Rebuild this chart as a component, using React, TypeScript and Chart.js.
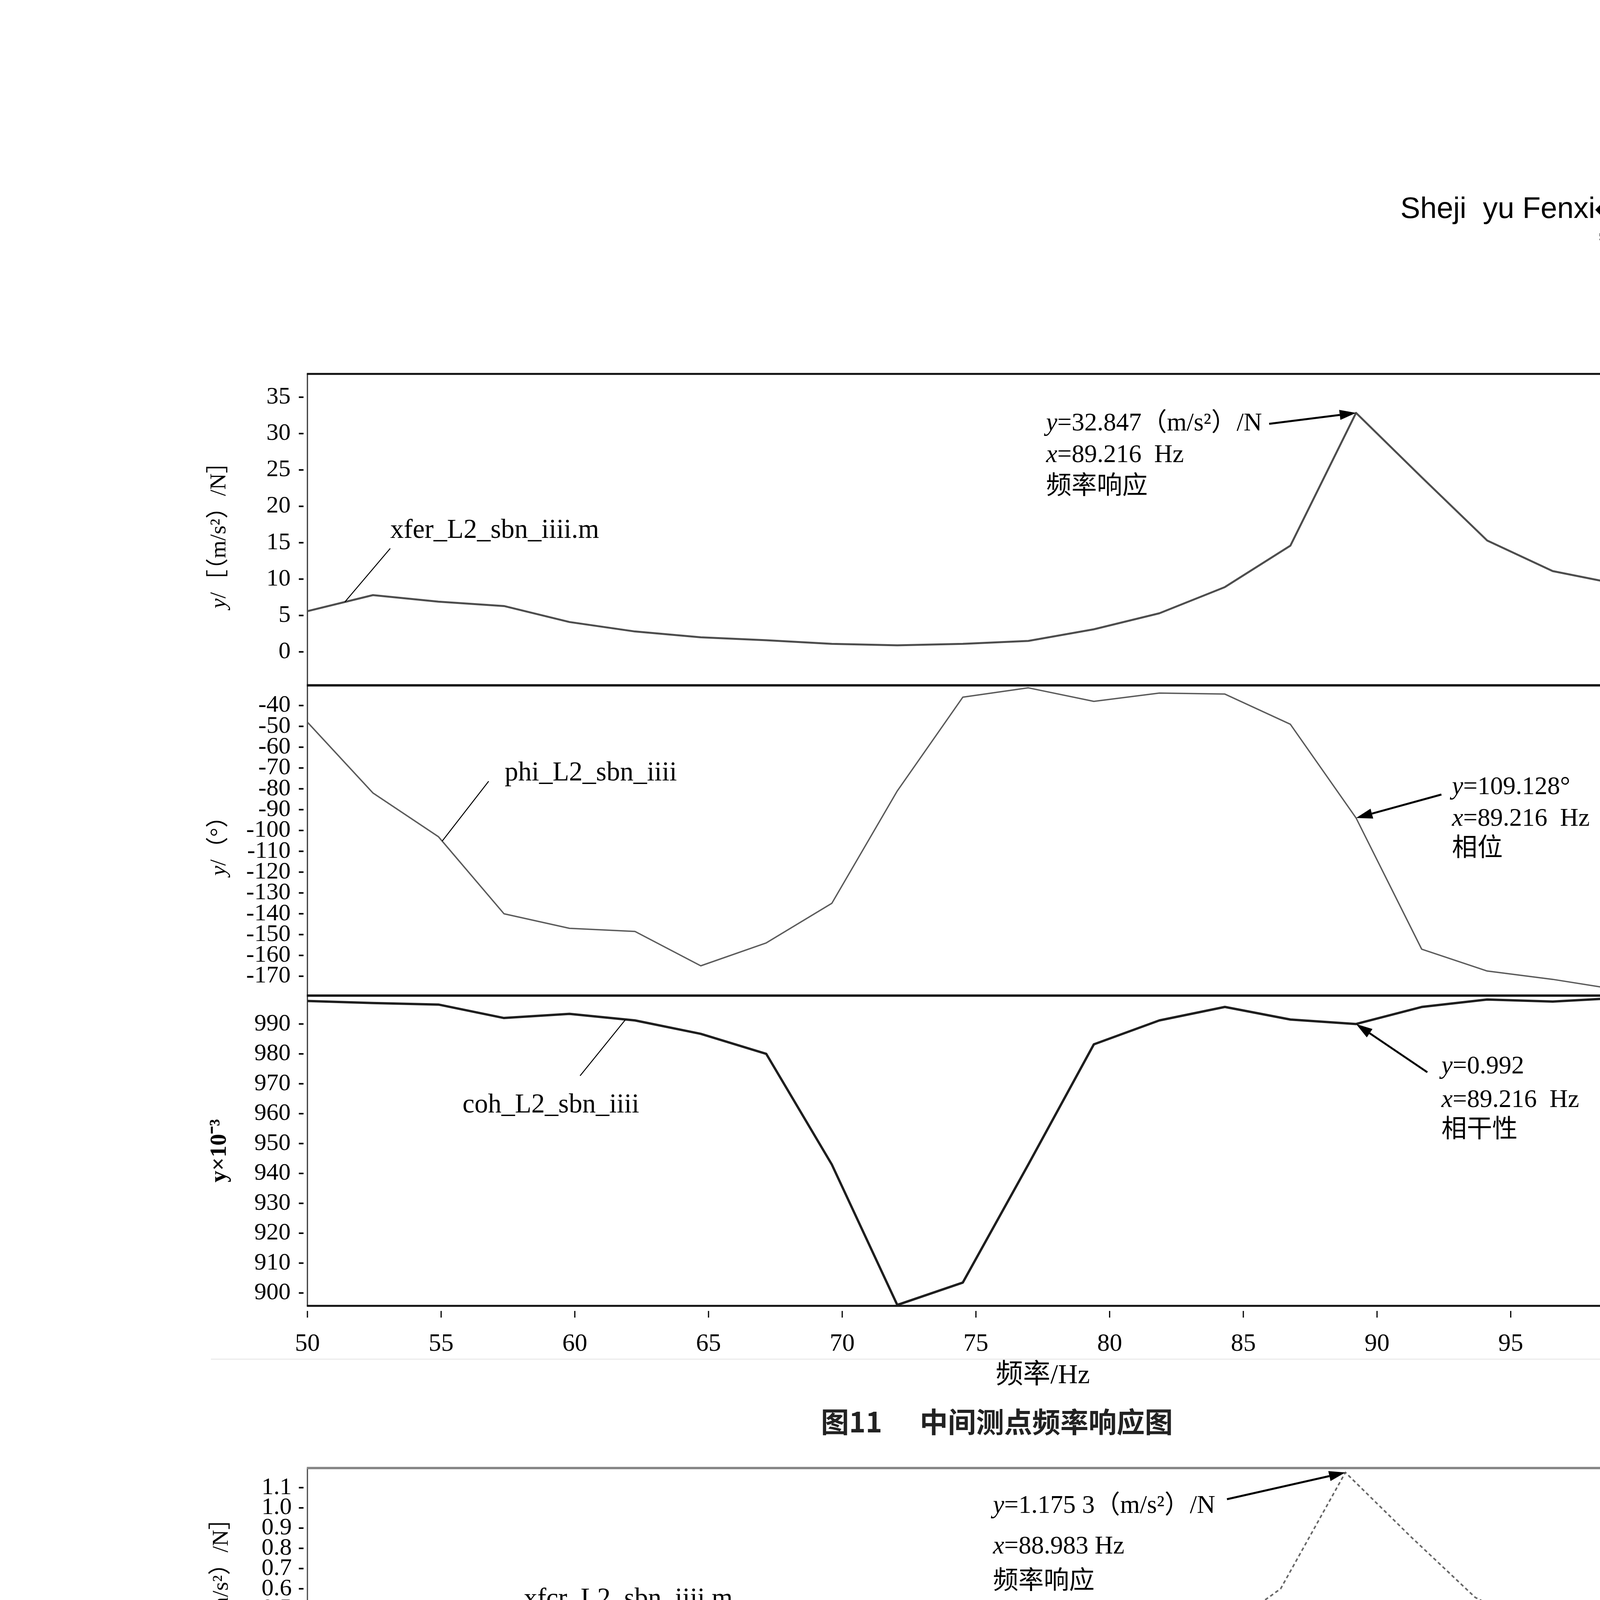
import React, { useEffect, useRef } from 'react';
import { Chart, registerables } from 'chart.js';

Chart.register(...registerables);

const SERIF = '"Liberation Serif", "Noto Sans CJK SC", serif';
const SANS = '"Liberation Sans", "Noto Sans CJK SC", sans-serif';
const CJK = '"Noto Sans CJK SC", sans-serif';

// ---------------- data ----------------
const X_TICKS = [50, 55, 60, 65, 70, 75, 80, 85, 90, 95, 100, 105];

// Figure 11 (middle measuring point)
const F11_FREQ = [50, 52.45, 54.9, 57.35, 59.8, 62.25, 64.71, 67.16, 69.61, 72.06, 74.51, 76.96, 79.41, 81.86, 84.31, 86.76, 89.216, 91.67, 94.12, 96.57, 99.02, 101.47, 103.92, 106.37];
const F11_XFER = [5.6, 7.8, 6.9, 6.3, 4.1, 2.8, 2.0, 1.6, 1.1, 0.9, 1.1, 1.5, 3.1, 5.3, 8.9, 14.6, 32.847, 24.0, 15.3, 11.1, 9.3, 8.8, 8.4, 7.9];
const F11_PHI = [-48, -82, -103, -140, -147, -148.5, -165, -154, -135, -81, -36, -31.5, -38, -34, -34.5, -49, -94, -157, -167.5, -171.5, -176.5, -178.5, -177.5, -175.5];
const F11_COH = [997.7, 997, 996.5, 992, 993.4, 991.2, 986.7, 980, 943, 896, 903.5, 943, 983.2, 991.2, 995.7, 991.5, 990, 995.7, 998.2, 997.5, 998.7, 998.7, 998.3, 999.2];

const F11_TOP_TICKS = [0, 5, 10, 15, 20, 25, 30, 35];
const F11_TOP_LABELS = ['0', '5', '10', '15', '20', '25', '30', '35'];
const F11_MID_TICKS = [-40, -50, -60, -70, -80, -90, -100, -110, -120, -130, -140, -150, -160, -170];
const F11_MID_LABELS = ['-40', '-50', '-60', '-70', '-80', '-90', '-100', '-110', '-120', '-130', '-140', '-150', '-160', '-170'];
const F11_BOT_TICKS = [900, 910, 920, 930, 940, 950, 960, 970, 980, 990];
const F11_BOT_LABELS = ['900', '910', '920', '930', '940', '950', '960', '970', '980', '990'];

// Figure 12 (right 1/3 measuring point)
const F12_FREQ = [50, 52.44, 54.87, 57.31, 59.75, 62.18, 64.62, 67.06, 69.49, 71.93, 74.37, 76.8, 79.24, 81.68, 84.11, 86.55, 88.983, 91.42, 93.86, 96.29, 98.73, 101.17, 103.6, 106.04];
const F12_XFCR = [0.38, 0.49, 0.42, 0.345, 0.2, 0.13, 0.095, 0.08, 0.055, 0.045, 0.06, 0.09, 0.15, 0.24, 0.37, 0.6, 1.1753, 0.86, 0.557, 0.4, 0.33, 0.305, 0.29, 0.275];
const F12_PHI = [137, 103, 78, 43, 37, 29, 23, 32, 58, 115, 140, 142, 143, 146, 141, 124, 85, 24, 12, 7, 2, 0, -1, -1.5];
const F12_COH = [999.8, 999.6, 999.7, 999.5, 999.6, 999, 994, 986, 968, 960, 963, 967, 995, 999.3, 999.6, 999.5, 999.4, 999.7, 999.5, 999.6, 999.5, 999.7, 999.6, 999.7];

const F12_TOP_TICKS = [0.1, 0.2, 0.3, 0.4, 0.5, 0.6, 0.7, 0.8, 0.9, 1.0, 1.1];
const F12_TOP_LABELS = ['0.1', '0.2', '0.3', '0.4', '0.5', '0.6', '0.7', '0.8', '0.9', '1.0', '1.1'];
const F12_MID_TICKS = [150, 100, 50, 0, -50, -100, -150];
const F12_MID_LABELS = ['150', '100', '50', '0', '\u221250', '\u2212100', '\u2212150'];
const F12_BOT_TICKS = [100, 200, 300, 400, 500, 600, 700, 800, 900];
const F12_BOT_LABELS = ['100', '200', '300', '400', '500', '600', '700', '800', '900'];

// ---------------- types ----------------
type Seg = { t: string; it?: boolean };
type Series = { values: number[]; color: string; width: number; dash?: number[] };
type Label = { text: string; x: number; y: number; from: [number, number]; toHz: number };
type Note = { lines: string[]; x: number; ys: number[]; from: [number, number]; idx: number };
type Border = { color: string; width: number; under?: { color: string; width: number } };
type Panel = {
  id: string; weight: number; min: number; max: number;
  ticks: number[]; labels: string[]; title: Seg[]; titleBold?: boolean; titleSize: number;
  series: Series[]; top: Border; label: Label; note: Note;
};
type Fig = {
  freq: number[];
  canvas: { left: number; top: number; width: number; height: number };
  padTop: number; padRight: number; yAxisWidth: number; xAxisHeight: number;
  xTickPad: number; xTitlePad: number; xTickMark: [number, number]; yTickPad: number;
  titleX: number; bottom: Border; side: Border; panels: Panel[];
};

const FIG11: Fig = {
  freq: F11_FREQ,
  canvas: { left: 460, top: 877, width: 4200, height: 2723 },
  padTop: 60, padRight: 102, yAxisWidth: 327, xAxisHeight: 257,
  xTickPad: 60, xTitlePad: 35, xTickMark: [13, 30], yTickPad: 43,
  titleX: 562,
  bottom: { color: '#111', width: 5 },
  side: { color: '#333', width: 3 },
  panels: [
    {
      id: 'yTop', weight: 804, min: -4.6, max: 38.2,
      ticks: F11_TOP_TICKS, labels: F11_TOP_LABELS,
      title: [{ t: 'y', it: true }, { t: '/［（m/s²）/N］' }], titleSize: 58,
      series: [{ values: F11_XFER, color: '#4d4d4d', width: 5 }],
      top: { color: '#111', width: 5 },
      label: { text: 'xfer_L2_sbn_iiii.m', x: 999, y: 1359, from: [999, 1404], toHz: 51.4 },
      note: { lines: ['y=32.847（m/s²）/N', 'x=89.216  Hz', '频率响应'], x: 2678, ys: [1085, 1166, 1247], from: [3249, 1085], idx: 16 },
    },
    {
      id: 'yMid', weight: 801, min: -179.3, max: -30.3,
      ticks: F11_MID_TICKS, labels: F11_MID_LABELS,
      title: [{ t: 'y', it: true }, { t: '/（°）' }], titleSize: 58,
      series: [{ values: F11_PHI, color: '#5a5a5a', width: 3.5 }],
      top: { color: '#111', width: 6 },
      label: { text: 'phi_L2_sbn_iiii', x: 1292, y: 1980, from: [1251, 2000], toHz: 55.04 },
      note: { lines: ['y=109.128°', 'x=89.216  Hz', '相位'], x: 3717, ys: [2016, 2097, 2174], from: [3690, 2034], idx: 16 },
    },
    {
      id: 'yBot', weight: 801, min: 895.7, max: 999.5,
      ticks: F11_BOT_TICKS, labels: F11_BOT_LABELS,
      title: [{ t: 'y×10⁻³' }], titleBold: true, titleSize: 60,
      series: [{ values: F11_COH, color: '#1e1e1e', width: 6 }],
      top: { color: '#111', width: 6 },
      label: { text: 'coh_L2_sbn_iiii', x: 1184, y: 2830, from: [1485, 2754], toHz: 61.9 },
      note: { lines: ['y=0.992', 'x=89.216  Hz', '相干性'], x: 3690, ys: [2731, 2817, 2894], from: [3654, 2745], idx: 16 },
    },
  ],
};

const FIG12: Fig = {
  freq: F12_FREQ,
  canvas: { left: 460, top: 3681, width: 4200, height: 2079 },
  padTop: 60, padRight: 124, yAxisWidth: 327, xAxisHeight: 225,
  xTickPad: 38, xTitlePad: 35, xTickMark: [10, 24], yTickPad: 40,
  titleX: 568,
  bottom: { color: '#111', width: 6 },
  side: { color: '#444', width: 3 },
  panels: [
    {
      id: 'yTop', weight: 610, min: 0.03, max: 1.197,
      ticks: F12_TOP_TICKS, labels: F12_TOP_LABELS,
      title: [{ t: 'y', it: true }, { t: '/［（m/s²）/N］' }], titleSize: 58,
      series: [{ values: F12_XFCR, color: '#666', width: 4, dash: [9, 7] }],
      top: { color: '#858585', width: 6 },
      label: { text: 'xfcr_L2_sbn_iiii.m', x: 1341, y: 4095, from: [1521, 4185], toHz: 60.36 },
      note: { lines: ['y=1.175 3（m/s²）/N', 'x=88.983 Hz', '频率响应'], x: 2542, ys: [3856, 3960, 4050], from: [3141, 3838], idx: 16 },
    },
    {
      id: 'yMid', weight: 594, min: -179.3, max: 177,
      ticks: F12_MID_TICKS, labels: F12_MID_LABELS,
      title: [{ t: 'y', it: true }, { t: '/（°）' }], titleSize: 58,
      series: [{ values: F12_PHI, color: '#666', width: 4, dash: [9, 7] }],
      top: { color: '#111', width: 6, under: { color: '#9a9a9a', width: 4 } },
      label: { text: 'phi_L2_sbn_iiii', x: 1251, y: 4433, from: [1453, 4464], toHz: 59.4 },
      note: { lines: ['y=109.128°', 'x=88.983 Hz', '相位'], x: 2799, ys: [4581, 4676, 4770], from: [3150, 4568], idx: 16 },
    },
    {
      id: 'yBot', weight: 590, min: 5, max: 1001,
      ticks: F12_BOT_TICKS, labels: F12_BOT_LABELS,
      title: [{ t: 'y×10⁻³' }], titleBold: true, titleSize: 60,
      series: [
        { values: F12_COH, color: '#a0a0a0', width: 6 },
        { values: F12_COH, color: '#111', width: 8, dash: [580, 420] },
      ],
      top: { color: '#a3a3a3', width: 5 },
      label: { text: 'coh_L2_sbn_iiii', x: 1449, y: 5108, from: [1746, 5018], toHz: 64.3 },
      note: { lines: ['y=0.999', 'x=88.983 Hz', '相干性'], x: 2862, ys: [5040, 5135, 5234], from: [3195, 5040], idx: 16 },
    },
  ],
};

// ---------------- drawing helpers ----------------
function interp(xs: number[], ys: number[], x: number) {
  for (let i = 0; i < xs.length - 1; i++) {
    if (x >= xs[i] && x <= xs[i + 1]) {
      const t = (x - xs[i]) / (xs[i + 1] - xs[i]);
      return ys[i] + t * (ys[i + 1] - ys[i]);
    }
  }
  return ys[ys.length - 1];
}

function segFont(s: Seg, size: number, bold?: boolean) {
  return `${s.it ? 'italic ' : ''}${bold ? 'bold ' : ''}${size}px ${SERIF}`;
}

function drawSegs(ctx: CanvasRenderingContext2D, segs: Seg[], x: number, y: number, size: number, rotate: boolean, center: boolean, bold?: boolean) {
  ctx.save();
  ctx.translate(x, y);
  if (rotate) ctx.rotate(-Math.PI / 2);
  ctx.textBaseline = 'middle';
  ctx.textAlign = 'left';
  ctx.fillStyle = '#000';
  const widths = segs.map((s) => { ctx.font = segFont(s, size, bold); return ctx.measureText(s.t).width; });
  const total = widths.reduce((a, b) => a + b, 0);
  let cx = center ? -total / 2 : 0;
  segs.forEach((s, i) => { ctx.font = segFont(s, size, bold); ctx.fillText(s.t, cx, 0); cx += widths[i]; });
  ctx.restore();
}

function lineSegs(line: string): Seg[] {
  if (/^[xy]=/.test(line)) return [{ t: line[0], it: true }, { t: line.slice(1) }];
  return [{ t: line }];
}

function hBorder(ctx: CanvasRenderingContext2D, left: number, right: number, y: number, b: Border, ext: number) {
  if (b.under) {
    ctx.fillStyle = b.under.color;
    ctx.fillRect(left - ext, y - b.width / 2 - b.under.width, right - left + 2 * ext, b.under.width);
  }
  ctx.fillStyle = b.color;
  ctx.fillRect(left - ext, y - b.width / 2, right - left + 2 * ext, b.width);
}

function arrow(ctx: CanvasRenderingContext2D, x1: number, y1: number, x2: number, y2: number) {
  const ang = Math.atan2(y2 - y1, x2 - x1);
  const head = 42, hw = 13;
  const hx = x2 - head * Math.cos(ang), hy = y2 - head * Math.sin(ang);
  ctx.strokeStyle = '#000';
  ctx.lineWidth = 5;
  ctx.beginPath(); ctx.moveTo(x1, y1); ctx.lineTo(hx, hy); ctx.stroke();
  ctx.fillStyle = '#000';
  ctx.beginPath();
  ctx.moveTo(x2, y2);
  ctx.lineTo(hx + hw * Math.sin(ang), hy - hw * Math.cos(ang));
  ctx.lineTo(hx - hw * Math.sin(ang), hy + hw * Math.cos(ang));
  ctx.closePath(); ctx.fill();
}

function makeDecor(fig: Fig) {
  return {
    id: 'decor',
    // panel frame lines go under the curves
    beforeDatasetsDraw(chart: any) {
      const ctx: CanvasRenderingContext2D = chart.ctx;
      const ca = chart.chartArea;
      ctx.save();
      ctx.fillStyle = fig.side.color;
      ctx.fillRect(ca.left - fig.side.width / 2, ca.top, fig.side.width, ca.bottom - ca.top);
      ctx.fillRect(ca.right - fig.side.width / 2, ca.top, fig.side.width, ca.bottom - ca.top);
      fig.panels.forEach((p) => {
        const ys = chart.scales[p.id];
        hBorder(ctx, ca.left, ca.right, ys.top, p.top, fig.side.width / 2);
      });
      hBorder(ctx, ca.left, ca.right, ca.bottom, fig.bottom, fig.side.width / 2);
      ctx.restore();
    },
    afterDatasetsDraw(chart: any) {
      const ctx: CanvasRenderingContext2D = chart.ctx;
      const ca = chart.chartArea;
      const xs = chart.scales.x;
      const ox = fig.canvas.left, oy = fig.canvas.top;
      ctx.save();
      fig.panels.forEach((p) => {
        const ys = chart.scales[p.id];
        ctx.fillStyle = '#000';
        p.ticks.forEach((v) => {
          const y = ys.getPixelForValue(v);
          ctx.fillRect(ca.left - 22, y - 2, 12, 4);
        });
        drawSegs(ctx, p.title, fig.titleX - ox, (ys.top + ys.bottom) / 2, p.titleSize, true, true, p.titleBold);
        const s0 = p.series[0].values;
        const lx = xs.getPixelForValue(p.label.toHz);
        const ly = ys.getPixelForValue(interp(fig.freq, s0, p.label.toHz));
        ctx.strokeStyle = '#000';
        ctx.lineWidth = 2.5;
        ctx.beginPath();
        ctx.moveTo(p.label.from[0] - ox, p.label.from[1] - oy);
        ctx.lineTo(lx, ly);
        ctx.stroke();
        drawSegs(ctx, [{ t: p.label.text }], p.label.x - ox, p.label.y - oy, 69, false, false);
        const ax = xs.getPixelForValue(fig.freq[p.note.idx]);
        const ay = ys.getPixelForValue(s0[p.note.idx]);
        arrow(ctx, p.note.from[0] - ox, p.note.from[1] - oy, ax, ay);
        p.note.lines.forEach((ln, i) => {
          drawSegs(ctx, lineSegs(ln), p.note.x - ox, p.note.ys[i] - oy, 65, false, false);
        });
      });
      ctx.fillStyle = '#000';
      X_TICKS.forEach((v) => {
        const x = xs.getPixelForValue(v);
        ctx.fillRect(x - 1.5, ca.bottom + fig.xTickMark[0], 3, fig.xTickMark[1] - fig.xTickMark[0]);
      });
      ctx.restore();
    },
  };
}

function buildConfig(fig: Fig): any {
  const scales: any = {
    x: {
      type: 'linear', position: 'bottom', min: 50, max: 105,
      afterBuildTicks: (s: any) => { s.ticks = X_TICKS.map((v) => ({ value: v })); },
      afterFit: (s: any) => { s.height = fig.xAxisHeight; },
      grid: { display: false, drawTicks: false },
      border: { display: false },
      ticks: {
        autoSkip: false, maxRotation: 0, minRotation: 0, padding: fig.xTickPad, color: '#000',
        font: { family: SERIF, size: 64 }, callback: (v: any) => String(v),
      },
      title: {
        display: true, text: '频率/Hz', color: '#000',
        font: { family: SERIF, size: 70 }, padding: { top: 0, bottom: fig.xTitlePad },
      },
    },
  };
  fig.panels.forEach((p, i) => {
    scales[p.id] = {
      type: 'linear', position: 'left', stack: 'panels', stackWeight: p.weight,
      weight: fig.panels.length - i,
      min: p.min, max: p.max,
      afterBuildTicks: (s: any) => { s.ticks = p.ticks.map((v) => ({ value: v })); },
      afterFit: (s: any) => { s.width = fig.yAxisWidth; },
      grid: { display: false, drawTicks: false },
      border: { display: false },
      ticks: {
        autoSkip: false, padding: fig.yTickPad, color: '#000',
        font: { family: SERIF, size: 62 },
        callback: (v: any) => { const k = p.ticks.indexOf(v); return k >= 0 ? p.labels[k] : ''; },
      },
    };
  });
  const datasets = fig.panels.flatMap((p) => p.series.map((s) => ({
    data: fig.freq.map((f, i) => ({ x: f, y: s.values[i] })),
    yAxisID: p.id,
    borderColor: s.color,
    borderWidth: s.width,
    borderDash: s.dash || [],
    pointRadius: 0,
    tension: 0,
    fill: false,
    borderJoinStyle: 'round',
    borderCapStyle: 'butt',
  })));
  return {
    type: 'line',
    data: { datasets },
    options: {
      responsive: false,
      animation: false,
      devicePixelRatio: 1,
      events: [],
      layout: { padding: { top: fig.padTop, right: fig.padRight, bottom: 0, left: 0 } },
      plugins: { legend: { display: false }, tooltip: { enabled: false } },
      scales,
    },
    plugins: [makeDecor(fig)],
  };
}

function Figure({ fig }: { fig: Fig }) {
  const ref = useRef<HTMLCanvasElement>(null);
  useEffect(() => {
    if (!ref.current) return;
    const chart = new Chart(ref.current, buildConfig(fig));
    return () => chart.destroy();
  }, [fig]);
  const c = fig.canvas;
  return (
    <canvas
      ref={ref}
      width={c.width}
      height={c.height}
      style={{ position: 'absolute', left: c.left, top: c.top, width: c.width, height: c.height }}
    />
  );
}

const abs = (left: number, top: number, extra: React.CSSProperties = {}): React.CSSProperties => ({
  position: 'absolute', left, top, whiteSpace: 'nowrap', ...extra,
});

function BodyLine({ left, width, cy, justify, children }: { left: number; width: number; cy: number; justify: boolean; children: React.ReactNode }) {
  return (
    <div
      style={abs(left, cy - 55, {
        width, height: 110, lineHeight: '110px', fontSize: 86, fontFamily: SERIF, color: '#111',
        textAlign: justify ? 'justify' : 'left', textAlignLast: justify ? 'justify' : 'left',
      } as React.CSSProperties)}
    >
      {children}
    </div>
  );
}

export default function App() {
  useEffect(() => {
    document.body.style.margin = '0';
    document.body.style.background = '#fff';
  }, []);
  return (
    <div style={{ position: 'absolute', left: 0, top: 0, width: 5102, height: 7015, background: '#fff', overflow: 'hidden', color: '#000' }}>
      {/* header */}
      <div style={abs(3585, 472, { height: 100, lineHeight: '100px', fontFamily: SANS, fontSize: 76 })}>
        <span style={{ whiteSpace: 'pre' }}>{'Sheji  yu Fenxi'}</span>
        <span style={{ fontFamily: '"DejaVu Sans"', fontSize: 80, margin: '0 2px 0 0' }}>◆</span>
        <span style={{ fontFamily: CJK, fontWeight: 300, fontSize: 84 }}>设计与分析</span>
      </div>
      <div style={abs(4590, 463, { width: 45, height: 127, background: '#6e6e6e' })} />
      <div style={abs(4095, 597, { width: 555, height: 8, background: '#000' })} />
      <div style={abs(4095, 611, { width: 555, height: 4, background: '#000' })} />

      {/* figure 11 */}
      <div style={abs(540, 3478, { width: 4030, height: 3, background: '#ececec' })} />
      <Figure fig={FIG11} />
      <div style={abs(1552, 3591, { width: 2000, height: 90, lineHeight: '90px', textAlign: 'center', fontFamily: CJK, fontWeight: 700, fontSize: 72, color: '#222' })}>
        图11<span style={{ marginLeft: 96 }}>中间测点频率响应图</span>
      </div>

      {/* figure 12 */}
      <div style={abs(540, 5634, { width: 4010, height: 3, background: '#ececec' })} />
      <Figure fig={FIG12} />
      <div style={abs(1552, 5751, { width: 2000, height: 90, lineHeight: '90px', textAlign: 'center', fontFamily: CJK, fontWeight: 700, fontSize: 72, color: '#222' })}>
        图12<span style={{ marginLeft: 96 }}>右侧1/3测点频率响应图</span>
      </div>

      {/* body text */}
      <BodyLine left={503} width={1986} cy={5949} justify>89 Hz这个频率点附近都存在相位的跃变，并且相干</BodyLine>
      <BodyLine left={503} width={1986} cy={6097} justify>函数值都趋向于1(都大于0.8)，因此可以判断轿厢下</BodyLine>
      <BodyLine left={503} width={1986} cy={6246} justify={false}>梁在89 Hz存在共振频率点。</BodyLine>
      <BodyLine left={2812} width={1823} cy={5949} justify>为了解决这个问题，在轿厢底板和下梁之间增</BodyLine>
      <BodyLine left={2646} width={1989} cy={6097} justify>
        加了橡胶垫<sup style={{ fontSize: 50, lineHeight: 0 }}>[1-2]</sup>，并对传递路径进行了复测，如图13
      </BodyLine>
      <BodyLine left={2646} width={1989} cy={6246} justify={false}>所示。</BodyLine>

      {/* footer */}
      <div style={abs(3168, 6521, { height: 94, lineHeight: '94px', fontFamily: SANS, fontWeight: 700, fontSize: 78, color: '#333' })}>机电信息</div>
      <div style={abs(3560, 6521, { height: 94, lineHeight: '94px', fontFamily: SANS, fontWeight: 700, fontSize: 78, color: '#333' })}>2025 年第 2 期总第 746 期</div>
      <div style={abs(4562, 6521, { height: 94, lineHeight: '94px', fontFamily: SANS, fontSize: 78, color: '#000' })}>39</div>
    </div>
  );
}
